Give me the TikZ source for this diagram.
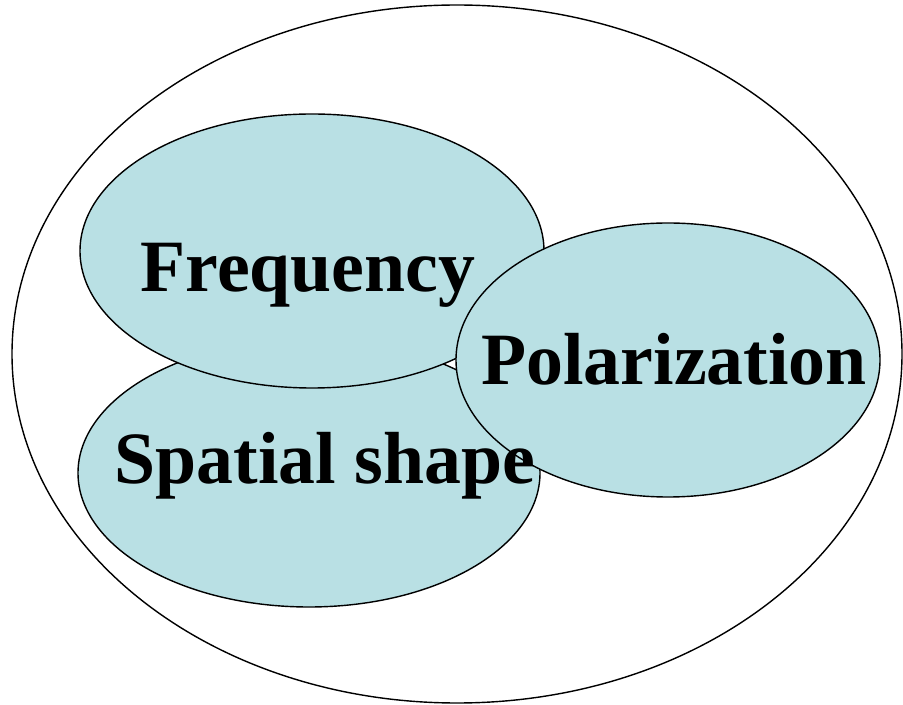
\documentclass[tikz,border=0pt]{standalone}
\usepackage{fontspec}
\setmainfont{Liberation Serif}
\usetikzlibrary{shapes.geometric}

\definecolor{blob}{RGB}{185,224,228}

\begin{document}
\begin{tikzpicture}[x=0.02cm,y=-0.02cm,line width=0.8pt,
    blobfill/.style={draw=black,fill=blob},
    lbl/.style={anchor=base,inner sep=0pt,font=\fontsize{42}{50}\selectfont\bfseries}]
  \useasboundingbox (0,0) rectangle (903,705);
  % outer set
  \draw (457,354) ellipse (445 and 349);
  % the three properties
  \draw[blobfill] (309,473) ellipse (231 and 134);
  \draw[blobfill] (312,251) ellipse (232 and 137);
  \draw[blobfill] (668,360) ellipse (212 and 137);
  % labels
  \node[lbl] (freq) at (308,292) {Frequency};
  \node[lbl] (spat) at (325,484) {Spatial shape};
  \node[lbl] (pola) at (674,385) {Polarization};
\end{tikzpicture}
\end{document}
